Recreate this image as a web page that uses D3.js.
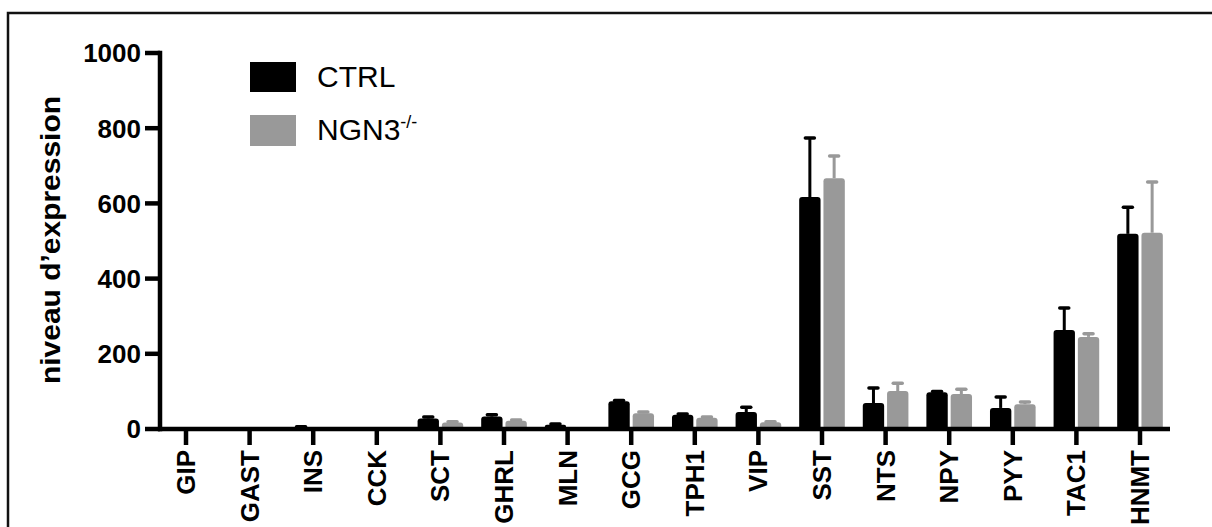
<!DOCTYPE html>
<html>
<head>
<meta charset="utf-8">
<script src="https://cdn.jsdelivr.net/npm/d3@7"></script>
<style>
  html, body { margin: 0; padding: 0; background: #fff; }
  svg { display: block; font-family: "Liberation Sans", Arial, Helvetica, sans-serif; }
</style>
</head>
<body>
<svg id="chart" width="1212" height="527"></svg>
<script>
// ---- data ----
const categories = ["GIP","GAST","INS","CCK","SCT","GHRL","MLN","GCG","TPH1","VIP","SST","NTS","NPY","PYY","TAC1","HNMT"];
const seriesNames = ["CTRL","NGN3"];
const ctrlValues = [1, 1, 5, 1, 28, 33, 11, 74, 38, 45, 617, 69, 98, 56, 263, 519];
const ctrlErrors = [0, 0, 1, 0, 4, 5, 2, 2, 2, 13, 157, 40, 2, 29, 59, 71];
const ngn3Values = [1, 0.5, 1, 0.5, 17, 22, 2, 42, 30, 18, 667, 101, 93, 66, 245, 522];
const ngn3Errors = [0, 0, 0, 0, 2, 2, 0, 3, 2, 1, 59, 21, 13, 6, 8, 135];
const yTicks = [0, 200, 400, 600, 800, 1000];

// ---- layout ----
const svg = d3.select("#chart");
const colors = { CTRL: "#000000", NGN3: "#999999" };

// outer frame
svg.append("rect")
  .attr("x", 8).attr("y", 13)
  .attr("width", 1230).attr("height", 540)
  .attr("fill", "none").attr("stroke", "#111").attr("stroke-width", 2.5);

const y = d3.scaleLinear().domain([0, 1000]).range([429, 53]);
const x = d3.scaleBand().domain(categories).range([154.2, 1171.8]).padding(0);
const xs = d3.scaleBand().domain(seriesNames).range([0, x.bandwidth()])
  .paddingInner(0.12).paddingOuter(0.37);

// bars with slightly rounded tops
function barPath(x0, w, v) {
  const yb = y(0), yt = y(v);
  const h = yb - yt;
  const r = Math.min(3, h / 2, w / 2);
  return `M${x0},${yb} L${x0},${yt + r} Q${x0},${yt} ${x0 + r},${yt} L${x0 + w - r},${yt} Q${x0 + w},${yt} ${x0 + w},${yt + r} L${x0 + w},${yb} Z`;
}

const rows = categories.map((c, i) => ({
  cat: c,
  series: [
    { name: "CTRL", v: ctrlValues[i], e: ctrlErrors[i] },
    { name: "NGN3", v: ngn3Values[i], e: ngn3Errors[i] }
  ]
}));

const groups = svg.append("g").selectAll("g").data(rows).join("g")
  .attr("transform", d => `translate(${x(d.cat)},0)`);

// error bars (upper only)
groups.selectAll("g.err").data(d => d.series.filter(s => s.e > 0)).join("g")
  .attr("class", "err")
  .each(function(s) {
    const g = d3.select(this);
    const cx = xs(s.name) + xs.bandwidth() / 2;
    g.append("line")
      .attr("x1", cx).attr("x2", cx)
      .attr("y1", y(s.v)).attr("y2", y(s.v + s.e))
      .attr("stroke", colors[s.name]).attr("stroke-width", 3);
    g.append("line")
      .attr("x1", cx - 4.5).attr("x2", cx + 4.5)
      .attr("y1", y(s.v + s.e)).attr("y2", y(s.v + s.e))
      .attr("stroke", colors[s.name]).attr("stroke-width", 3.5)
      .attr("stroke-linecap", "round");
  });

groups.selectAll("path.bar").data(d => d.series).join("path")
  .attr("class", "bar")
  .attr("d", s => barPath(xs(s.name), xs.bandwidth(), s.v))
  .attr("fill", s => colors[s.name]);

// y axis
const yAxis = svg.append("g");
yAxis.append("line")
  .attr("x1", 160).attr("x2", 160)
  .attr("y1", y(1000) - 2.2).attr("y2", y(0) + 2.2)
  .attr("stroke", "#000").attr("stroke-width", 4.5);
yAxis.selectAll("line.tick").data(yTicks).join("line")
  .attr("class", "tick")
  .attr("x1", 145).attr("x2", 160)
  .attr("y1", d => y(d)).attr("y2", d => y(d))
  .attr("stroke", "#000").attr("stroke-width", 4.5);
yAxis.selectAll("text").data(yTicks).join("text")
  .attr("x", 141).attr("y", d => y(d))
  .attr("dy", "0.36em")
  .attr("text-anchor", "end")
  .attr("font-size", 26).attr("font-weight", "bold")
  .text(d => d);

// x axis
const xAxis = svg.append("g");
xAxis.append("line")
  .attr("x1", 158).attr("x2", 1170)
  .attr("y1", y(0)).attr("y2", y(0))
  .attr("stroke", "#000").attr("stroke-width", 4.5);
xAxis.selectAll("line.tick").data(categories).join("line")
  .attr("class", "tick")
  .attr("x1", d => x(d) + x.bandwidth() / 2).attr("x2", d => x(d) + x.bandwidth() / 2)
  .attr("y1", y(0)).attr("y2", 445)
  .attr("stroke", "#000").attr("stroke-width", 4.5);
xAxis.selectAll("text").data(categories).join("text")
  .attr("transform", d => `translate(${x(d) + x.bandwidth() / 2 + 9},450) rotate(-90)`)
  .attr("text-anchor", "end")
  .attr("font-size", 26).attr("font-weight", "bold")
  .text(d => d);

// y title
svg.append("text")
  .attr("transform", "translate(60,240) rotate(-90)")
  .attr("text-anchor", "middle")
  .attr("font-size", 28).attr("font-weight", "bold")
  .attr("textLength", 288).attr("lengthAdjust", "spacingAndGlyphs")
  .text("niveau d\u2019expression");

// legend
const legend = svg.append("g");
legend.append("rect").attr("x", 250).attr("y", 62).attr("width", 46).attr("height", 30).attr("fill", colors.CTRL);
legend.append("rect").attr("x", 250).attr("y", 115).attr("width", 46).attr("height", 31).attr("fill", colors.NGN3);
legend.append("text").attr("x", 317).attr("y", 87).attr("font-size", 30).text("CTRL");
const t2 = legend.append("text").attr("x", 317).attr("y", 140).attr("font-size", 30);
t2.append("tspan").text("NGN3");
t2.append("tspan").attr("font-size", 18).attr("dy", -12).text("-/-");
</script>
</body>
</html>
